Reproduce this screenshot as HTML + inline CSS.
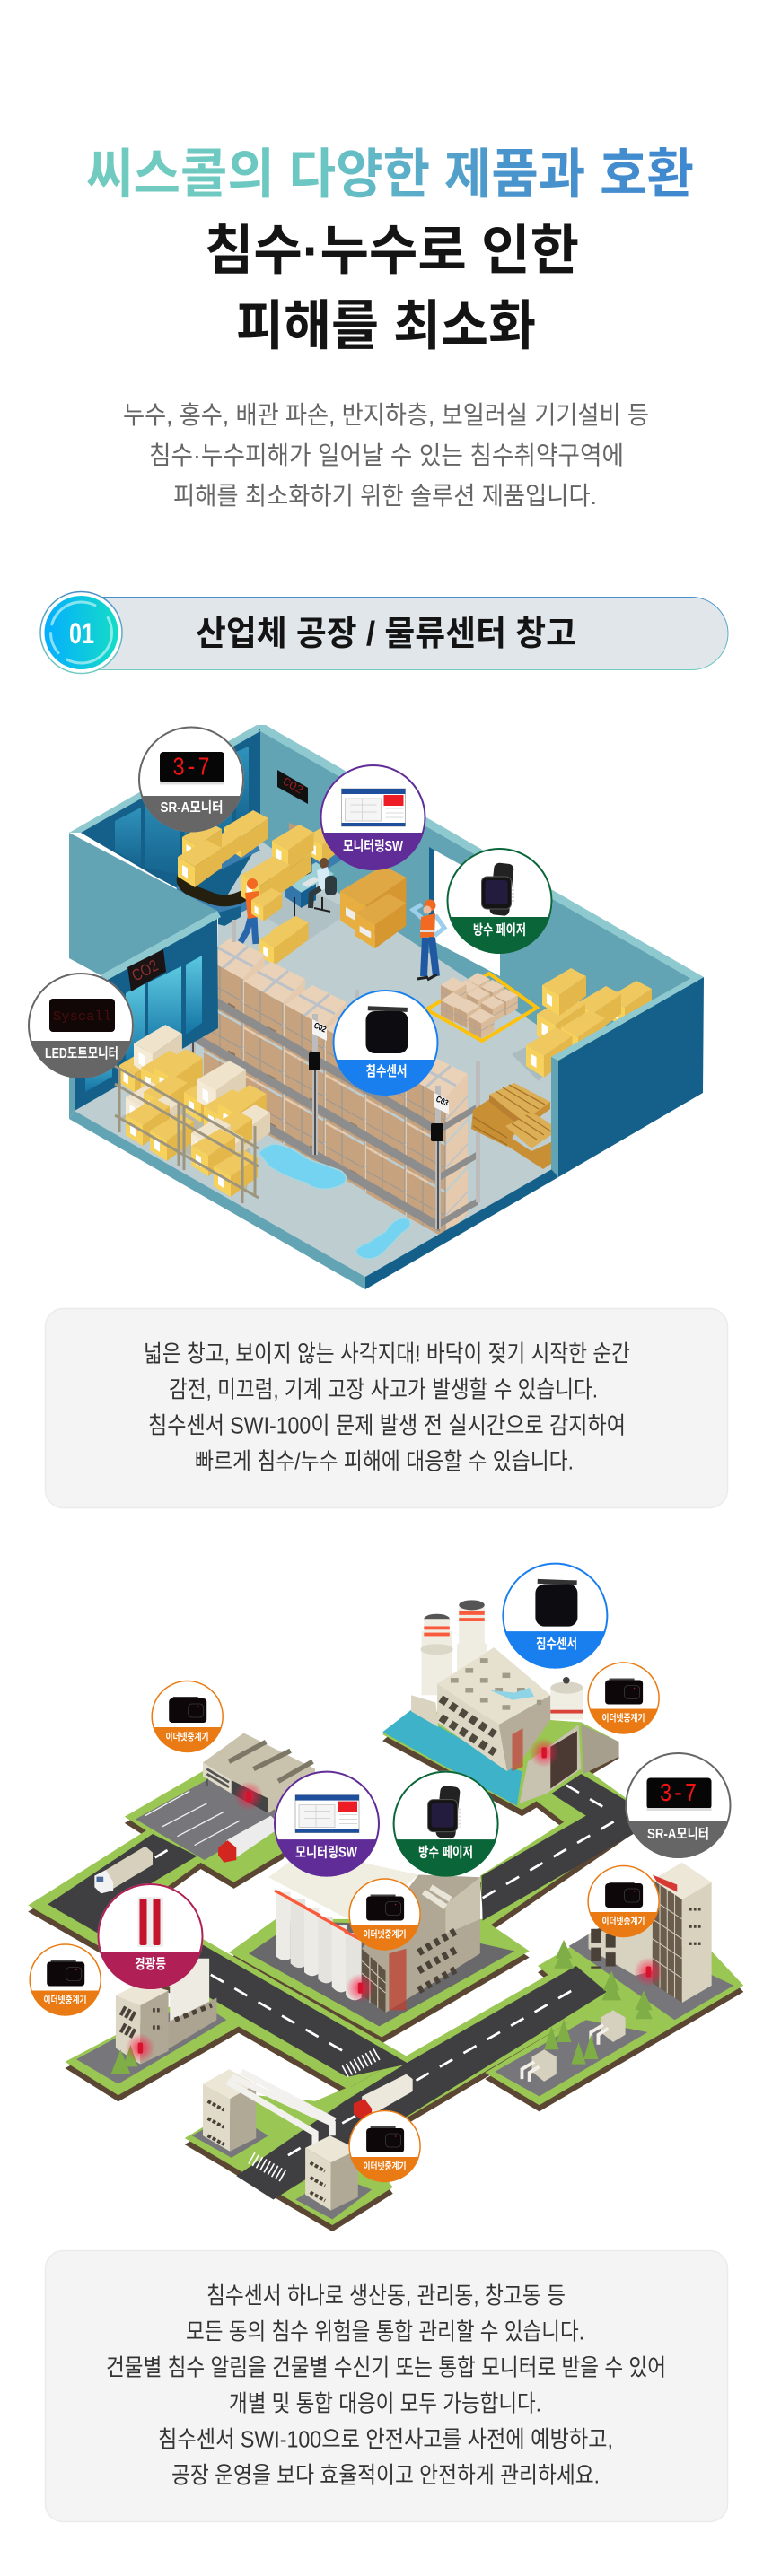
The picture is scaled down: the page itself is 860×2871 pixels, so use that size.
<!DOCTYPE html>
<html lang="ko"><head><meta charset="utf-8"><title>침수센서</title>
<style>html,body{margin:0;padding:0;background:#fff}svg{display:block;font-family:"Liberation Sans","Noto Sans CJK KR",sans-serif}</style></head><body>
<svg xmlns="http://www.w3.org/2000/svg" width="860" height="2871" viewBox="0 0 860 2871">
<defs>
<linearGradient id="tg" x1="96" x2="773" y1="0" y2="0" gradientUnits="userSpaceOnUse"><stop offset="0" stop-color="#71cbbf"/><stop offset=".38" stop-color="#6cc7c3"/><stop offset=".68" stop-color="#4a95cc"/><stop offset="1" stop-color="#3f87cf"/></linearGradient>
<linearGradient id="pb" x1="0" x2="0" y1="0" y2="1"><stop offset="0" stop-color="#4a8fc9"/><stop offset="1" stop-color="#70cbc0"/></linearGradient>
<linearGradient id="cf" x1="0" x2="1" y1="0" y2="0"><stop offset="0" stop-color="#05aeff"/><stop offset="1" stop-color="#14dcc6"/></linearGradient>
<linearGradient id="gl" x1="0" x2="0" y1="0" y2="1"><stop offset="0" stop-color="#5cc8e0"/><stop offset="1" stop-color="#1373a4"/></linearGradient>
<linearGradient id="gd" x1="0" x2="0" y1="0" y2="1"><stop offset="0" stop-color="#2f93bb"/><stop offset="1" stop-color="#15648f"/></linearGradient>
<radialGradient id="glow"><stop offset="0" stop-color="#ff1744" stop-opacity=".85"/><stop offset="1" stop-color="#ff1744" stop-opacity="0"/></radialGradient>
<clipPath id="c59"><circle r="59"/></clipPath>
<clipPath id="c40"><circle r="40"/></clipPath>
<g id="yb"><polygon points="0,0 32,-19 49,-10 19,11" fill="#efc860"/><polygon points="0,0 19,11 19,34 0,22" fill="#f6d15c"/><polygon points="19,11 49,-10 49,12 19,34" fill="#e3b74a"/><polygon points="5,9 11,12.5 11,24 5,20" fill="#fff"/></g>
<g id="cb"><polygon points="0,0 32,-19 49,-10 19,11" fill="#efe3cb"/><polygon points="0,0 19,11 19,34 0,22" fill="#f4ead6"/><polygon points="19,11 49,-10 49,12 19,34" fill="#e0d0b4"/><polygon points="5,9 11,12.5 11,24 5,20" fill="#fff"/></g>
<g id="ob"><polygon points="0,0 32,-19 49,-10 19,11" fill="#e0a845"/><polygon points="0,0 19,11 19,34 0,22" fill="#e8ae40"/><polygon points="19,11 49,-10 49,12 19,34" fill="#d69630"/><polygon points="4,12 15,18 15,24 4,18" fill="#eee"/></g>
<g id="kb"><polygon points="0,0 18,-12 38,-1 19,10" fill="#e8d0b6"/><polygon points="0,0 19,10 19,32 0,22" fill="#c6a381"/><polygon points="19,10 38,-1 38,21 19,32" fill="#d9ba99"/><path d="M0,11 L19,21 L38,10 M9,5 V27" stroke="#a9a49e" stroke-width="1" fill="none"/></g>
<g id="col">
<polygon points="0,0 30,-22 68,-3 43,24" fill="#ead2b8"/><path d="M15,-11 L55,10 M49,-12 L21,12" stroke="#bcc2c8" stroke-width="3" fill="none"/>
<polygon points="43,24 68,-3 68,46 43,74" fill="#e5caad"/><polygon points="43,77 68,50 68,99 43,127" fill="#e5caad"/><polygon points="43,130 68,103 68,152 43,180" fill="#e5caad"/>
<polygon points="0,0 43,24 43,74 0,50" fill="#c6a27e"/><polygon points="0,53 43,77 43,127 0,103" fill="#c6a27e"/><polygon points="0,106 43,130 43,180 0,156" fill="#c6a27e"/>
<path d="M18,10 V60 M18,63 V113 M18,116 V166 M0,25 L43,49 M0,78 L43,102 M0,131 L43,155 M43,24 V180" stroke="#9c9a94" stroke-width="1.2" fill="none"/>
<path d="M43,49 L68,22 M43,102 L68,75 M43,155 L68,128" stroke="#bcc2c8" stroke-width="1.5" fill="none"/>
<rect x="27" y="50" width="8" height="8" fill="#8b7258" transform="skewY(28) translate(0,-14)"/><rect x="27" y="103" width="8" height="8" fill="#8b7258" transform="skewY(28) translate(0,-14)"/><rect x="27" y="156" width="8" height="8" fill="#8b7258" transform="skewY(28) translate(0,-14)"/>
</g>
<g id="mon"><rect x="-35" y="-30.5" width="72" height="35" rx="4" fill="#060606"/><rect x="-35" y="3" width="72" height="3" fill="#ddd"/></g>
<g id="sw"><rect x="-35" y="-32" width="71" height="42" fill="#fff" stroke="#888" stroke-width=".6"/><rect x="-35" y="-32" width="71" height="6" fill="#1d4f9c"/><rect x="-35" y="6" width="71" height="4" fill="#1d4f9c"/><rect x="12" y="-25" width="22" height="12" fill="#ee1c25"/><rect x="-31" y="-21" width="40" height="25" fill="#f5f5f5" stroke="#c4c4c4" stroke-width=".8"/><path d="M-25,-14 H4 M-25,-6 H4 M-12,-21 V4 M14,-10 H34 M14,-5 H34 M14,0 H34" stroke="#ccc" stroke-width=".7"/></g>
<g id="wt"><rect x="-10" y="-42" width="22" height="58" rx="6" fill="#222" transform="rotate(6)"/><rect x="-20" y="-27" width="33" height="36" rx="6" fill="#141414" stroke="#555" stroke-width="1"/><rect x="-16" y="-23" width="25" height="27" rx="3" fill="#241c3e"/><path d="M15,-17 V4" stroke="#ddd" stroke-width="3" stroke-dasharray="2 2"/></g>
<g id="sn"><rect x="-21" y="-40" width="44" height="5" fill="#333" transform="rotate(2)"/><rect x="-22" y="-35" width="47" height="47" rx="10" fill="#0d0d11"/></g>
<g id="eth"><rect x="-16" y="-22" width="28" height="2" fill="#444"/><rect x="-20.5" y="-20" width="42" height="27" rx="3.5" fill="#0e0709"/><rect x="1" y="-14" width="17" height="15" rx="4" fill="none" stroke="#3a3a3a" stroke-width=".8"/><circle cx="12" cy="-11" r=".8" fill="#a22"/></g>
<g id="gnd">
<polygon points="57,772 300,618 415,680 290,770 825,1078 705,1145"/>
<polygon points="700,1148 825,1078 1110,915 1200,880 1240,960 985,1110 798,1220 640,1180"/>
<polygon points="1092,895 1190,838 1440,860 1510,935 1095,1178 985,1112 1230,965 1115,915"/>
<polygon points="375,1245 520,1158 640,1170 710,1140 830,1200 740,1270 798,1345 675,1422"/>
<polygon points="132,1090 240,1158 490,1015 420,950 340,980"/>
<polygon points="465,868 560,800 980,800 1075,865 775,1040"/>
<polygon points="975,712 1145,603 1085,557 1190,495 1320,590 985,820"/>
<polygon points="777,425 835,375 1180,400 1257,440 1257,460 1060,578"/>
<polygon points="253,592 420,495 640,560 575,665 475,725 300,622"/>
</g>
</defs>
<rect width="860" height="2871" fill="#fff"/>

<!-- header -->
<text x="96" y="215" font-size="60" font-weight="700" fill="url(#tg)" textLength="677" lengthAdjust="spacingAndGlyphs">씨스콜의 다양한 제품과 호환</text>
<text x="228" y="300" font-size="60" font-weight="700" fill="#141414" textLength="417" lengthAdjust="spacingAndGlyphs">침수·누수로 인한</text>
<text x="263" y="384" font-size="60" font-weight="700" fill="#141414" textLength="334" lengthAdjust="spacingAndGlyphs">피해를 최소화</text>
<g font-size="28" fill="#666">
<text x="137" y="472" textLength="586" lengthAdjust="spacingAndGlyphs">누수, 홍수, 배관 파손, 반지하층, 보일러실 기기설비 등</text>
<text x="166" y="517" textLength="529" lengthAdjust="spacingAndGlyphs">침수·누수피해가 일어날 수 있는 침수취약구역에</text>
<text x="193" y="562" textLength="472" lengthAdjust="spacingAndGlyphs">피해를 최소화하기 위한 솔루션 제품입니다.</text>
</g>
<rect x="62" y="665.5" width="749" height="81" rx="40.5" fill="#e1e6eb" stroke="url(#pb)" stroke-width="1"/>
<circle cx="90.5" cy="705" r="45.5" fill="#fff" stroke="url(#pb)" stroke-width="1.5"/>
<circle cx="90.5" cy="705" r="41" fill="url(#cf)"/>
<circle cx="90.5" cy="705" r="34" fill="none" stroke="#bff3f3" stroke-opacity=".7" stroke-width="3" stroke-dasharray="70 12 24 10 60 20" stroke-linecap="round"/>
<text x="77" y="717" font-size="32" font-weight="700" fill="#fff" textLength="28" lengthAdjust="spacingAndGlyphs">01</text>
<text x="218" y="719" font-size="38" font-weight="700" fill="#141414" textLength="424" lengthAdjust="spacingAndGlyphs">산업체 공장 / 물류센터 창고</text>

<!-- scene 1 -->
<polygon points="83,1238 243,1146 243,960 290,937 622,1128 622,1300 407,1423" fill="#bdcdd0"/>
<polygon points="290,812 772,1092 640,1170 290,937" fill="#62a3b4"/>
<polygon points="286,808 296,808 784,1089 772,1092 290,815" fill="#8fc9d0"/>
<polygon points="483,947 557,988 557,1088 483,1049" fill="#fff"/>
<polygon points="478,944 483,947 483,1049 478,1047" fill="#15608a"/>
<polygon points="90,928 290,812 290,937 243,1015 170,975" fill="#15608a"/>
<polygon points="77,928 286,808 290,815 90,928" fill="#8fc9d0"/>
<polygon points="128,915 157,900 157,965 128,948" fill="url(#gd)"/>
<polygon points="162,897 200,877 200,975 162,967" fill="url(#gd)"/>
<polygon points="205,872 259,842 259,925 205,958" fill="url(#gd)"/>
<polygon points="263,838 277,832 277,917 263,923" fill="url(#gd)"/>
<polygon points="260,1000 340,1050 392,1015 310,975" fill="#afc1c4"/>
<!-- conveyor -->
<path d="M287,932 L215,967 Q193,980 212,992 L238,1002 Q255,1007 272,998 L340,958" fill="none" stroke="#3a7eb0" stroke-width="13" transform="translate(0,10)"/>
<path d="M287,932 L215,967 Q193,980 212,992 L238,1002 Q255,1007 272,998 L340,958" fill="none" stroke="#251f10" stroke-width="13"/>
<polygon points="243,1017 268,1010 268,1022 250,1032 243,1030" fill="#15608a"/>
<polygon points="322,917 341,925 341,952 322,945" fill="#bb9a78"/>
<polygon points="365,968 395,950 380,940 340,960" fill="#3a7eb0"/>
<polygon points="318,983 352,961 372,974 336,995" fill="#9ad0d6"/>
<polygon points="318,983 336,995 336,1012 318,1000" fill="#3377aa"/>
<polygon points="335,995 352,985 352,1003 335,1012" fill="#155f90"/>
<polygon points="331,962 347,954 347,972 331,980" fill="#f4f4f4" stroke="#222" stroke-width=".7"/>
<polygon points="336,985 350,977 356,981 342,989" fill="#dfe4e6"/>
<use href="#yb" x="250" y="922"/><use href="#yb" transform="translate(232,938) scale(.75)"/><use href="#yb" transform="translate(203,933) scale(.9)"/><use href="#yb" x="198" y="955"/>
<use href="#yb" transform="translate(342,932) scale(.9)"/><use href="#yb" transform="translate(303,960) scale(.9)"/><use href="#yb" transform="translate(303,937) scale(.95)"/><use href="#yb" transform="translate(269,975) scale(1.1)"/>
<!-- operator -->
<ellipse cx="361" cy="962" rx="5" ry="6" fill="#6a4a30"/><polygon points="353,970 365,966 369,986 356,994" fill="#d6eaf5"/><path d="M357,990 L347,996 L346,1012" stroke="#2f3a3e" stroke-width="6" fill="none"/><rect x="362" y="976" width="13" height="22" rx="5" fill="#2e3b3e"/><path d="M359,1000 V1014 M350,1012 L368,1016" stroke="#222" stroke-width="2"/>
<!-- scale -->
<polygon points="383,1022 430,995 451,1028 430,1048" fill="#566aa5"/><rect x="427" y="985" width="3" height="30" fill="#3f4f88"/><rect x="420" y="977" width="14" height="11" fill="#233a6b" transform="skewY(-15) translate(0,115)"/>
<use href="#ob" transform="translate(379,993) scale(1.5)"/><use href="#ob" transform="translate(396,1018) scale(1.15)"/>
<!-- jack -->
<polygon points="294,1060 330,1038 338,1045 300,1073" fill="#e8c74d"/><path d="M328,1000 V1040" stroke="#222" stroke-width="2"/><circle cx="336" cy="1042" r="4" fill="#222"/>
<use href="#yb" transform="translate(302,1037) scale(.85)"/><use href="#yb" transform="translate(289,1047) scale(.85)"/>
<!-- worker -->
<path d="M280,1020 L275,1038 L268,1050 M283,1020 L284,1040 L285,1052" stroke="#2766ab" stroke-width="7" fill="none"/><polygon points="273,995 288,993 288,1022 276,1024" fill="#f26a21"/><circle cx="281" cy="985" r="6" fill="#f26a21"/><use href="#yb" transform="translate(280,1003) scale(.7)"/>
<!-- shelf columns -->
<use href="#col" x="227" y="1067"/><use href="#col" x="272" y="1094"/><use href="#col" x="318" y="1120"/><use href="#col" x="363" y="1147"/><use href="#col" x="408" y="1174"/><use href="#col" x="453" y="1200"/>
<g fill="#8d8d8d"><polygon points="214,1096 490,1256 490,1267 214,1107"/><polygon points="214,1149 490,1309 490,1320 214,1160"/><polygon points="214,1202 490,1362 490,1373 214,1213"/><polygon points="488,1256 532,1230 532,1238 488,1264"/><polygon points="488,1309 532,1283 532,1291 488,1317"/><polygon points="488,1361 532,1335 532,1343 488,1369"/></g>
<g fill="#bcbcbc"><rect x="212" y="1053" width="6" height="152"/><rect x="348" y="1130" width="6" height="157"/><rect x="485" y="1210" width="6" height="160"/><rect x="530" y="1183" width="5" height="157"/><rect x="258" y="1025" width="5" height="25"/><rect x="395" y="1103" width="5" height="22"/></g>
<path d="M215,1125 V1205 M351,1190 V1287 M488,1270 V1370" stroke="#222" stroke-width="1.4"/>
<g fill="#0c0c0c"><rect x="207" y="1113" width="13" height="19" rx="2"/><rect x="344" y="1173" width="13" height="20" rx="2"/><rect x="480" y="1252" width="14" height="20" rx="2"/></g>
<g font-weight="700" font-size="9.5" fill="#000">
<polygon points="211,1060 227,1067 227,1083 211,1076" fill="#f4f4f4"/><text transform="translate(212,1069) rotate(24)" textLength="14" lengthAdjust="spacingAndGlyphs">C01</text>
<polygon points="348,1136 364,1144 364,1160 348,1152" fill="#f4f4f4"/><text transform="translate(349,1145) rotate(24)" textLength="14" lengthAdjust="spacingAndGlyphs">C02</text>
<polygon points="484,1218 500,1226 500,1242 484,1234" fill="#f4f4f4"/><text transform="translate(485,1227) rotate(24)" textLength="14" lengthAdjust="spacingAndGlyphs">C03</text>
</g>
<!-- CO2 wall -->
<polygon points="309,858 343,878 343,896 309,877" fill="#111"/><text transform="translate(314,873) rotate(30)" font-size="13" fill="#9c1c1c" font-family="Liberation Mono" textLength="24" lengthAdjust="spacingAndGlyphs">CO2</text>
<!-- front left wall -->
<polygon points="77,1107 242,1018 243,1146 83,1238 77,1240" fill="#15608a"/>
<polygon points="140,1107 162,1095 162,1177 140,1190" fill="url(#gl)"/><polygon points="165,1095 202,1077 202,1153 165,1173" fill="url(#gl)"/><polygon points="207,1075 225,1065 225,1140 207,1153" fill="url(#gl)"/><polygon points="95,1182 125,1165 125,1200 95,1217" fill="url(#gl)"/>
<polygon points="77,928 242,1015 112,1087 77,1068" fill="#62a3b4"/>
<polygon points="242,1015 246,1022 118,1093 112,1087" fill="#8fc9d0"/>
<polygon points="142,1078 182,1058 185,1083 146,1105" fill="#1a1414"/><text transform="translate(151,1094) rotate(-28)" font-size="18" fill="#8c3030" textLength="30" lengthAdjust="spacingAndGlyphs">CO2</text>
<polygon points="77,1190 83,1190 83,1238 77,1247" fill="#62a3b4"/>
<polygon points="83,1238 407,1423 407,1437 77,1247" fill="#62a3b4"/>
<polygon points="407,1423 615,1303 622,1312 407,1437" fill="#15608a"/>
<!-- rack -->
<polygon points="135,1245 200,1207 280,1252 275,1330 215,1290" fill="#b6a684" opacity=".55"/>
<use href="#yb" transform="translate(133,1187) scale(.9)"/><use href="#cb" transform="translate(149,1163) scale(1.1)"/><use href="#yb" x="157" y="1190"/><use href="#yb" transform="translate(172,1190) scale(1.1)"/>
<use href="#cb" transform="translate(140,1223) scale(.9)"/><use href="#yb" transform="translate(160,1217) scale(1)"/><use href="#cb" transform="translate(157,1237) scale(.9)"/><use href="#yb" x="140" y="1243"/><use href="#yb" x="167" y="1260"/>
<use href="#yb" x="205" y="1217"/><use href="#cb" transform="translate(220,1203) scale(1.1)"/><use href="#yb" x="227" y="1233"/><use href="#yb" transform="translate(243,1230) scale(1.1)"/><use href="#cb" x="252" y="1250"/>
<use href="#yb" x="232" y="1257"/><use href="#cb" transform="translate(213,1263) scale(.9)"/><use href="#cb" transform="translate(228,1277) scale(.9)"/><use href="#yb" x="213" y="1277"/><use href="#yb" x="238" y="1300"/>
<g stroke="#9e957f" stroke-width="3" fill="none"><path d="M128,1188 L288,1280 M128,1208 L288,1300 M128,1243 L288,1335"/><path d="M133,1190 V1262 M199,1230 V1300 M205,1233 V1304 M270,1268 V1341 M284,1255 V1334"/></g>
<!-- pile -->
<polygon points="475,1125 545,1085 598,1123 537,1160" fill="none" stroke="#fdc20d" stroke-width="4"/>
<g>
<use href="#kb" transform="translate(520,1092) scale(.68)"/><use href="#kb" transform="translate(507,1100) scale(.68)"/><use href="#kb" transform="translate(536,1100) scale(.68)"/><use href="#kb" transform="translate(551,1110) scale(.68)"/><use href="#kb" transform="translate(491,1098) scale(.75)"/><use href="#kb" transform="translate(491,1115) scale(.75)"/><use href="#kb" transform="translate(520,1108) scale(.68)"/><use href="#kb" transform="translate(536,1118) scale(.68)"/><use href="#kb" transform="translate(506,1122) scale(.75)"/><use href="#kb" transform="translate(522,1133) scale(.75)"/>
</g>
<!-- person standing -->
<path d="M474,1045 L472,1088 M481,1045 L486,1088" stroke="#2059a2" stroke-width="8" fill="none"/><path d="M465,1091 L477,1089 M476,1092 L487,1086" stroke="#222" stroke-width="3"/>
<path d="M470,1008 L460,1014 L472,1025 M485,1020 L495,1034 L484,1043" stroke="#9bcfec" stroke-width="5" fill="none"/>
<polygon points="469,1022 485,1018 484,1044 468,1045" fill="#f26a21"/><rect x="468" y="1037" width="17" height="2" fill="#ddd"/><circle cx="479" cy="1009" r="6.5" fill="#f26a21"/><circle cx="476" cy="1014" r="4.5" fill="#eebc9e"/>
<!-- right boxes -->
<polygon points="570,1175 600,1160 625,1175 600,1205" fill="#abbcbf"/>
<use href="#yb" x="677" y="1112"/><use href="#yb" x="643" y="1118"/><use href="#yb" transform="translate(598,1130) scale(1.1)"/><use href="#yb" x="625" y="1145"/><use href="#yb" transform="translate(586,1165) scale(1.05)"/><use href="#yb" x="604" y="1098"/>
<!-- pallets -->
<g>
<polygon points="527,1237 553,1220 583,1247 565,1278 525,1258" fill="#c98f35"/>
<path d="M527,1245 L565,1268 M527,1255 L565,1276" stroke="#a57227" stroke-width="1.5"/>
<polygon points="545,1220 573,1207 613,1228 583,1250" fill="#dcae55"/>
<polygon points="545,1220 583,1250 583,1258 545,1228" fill="#b88030"/>
<polygon points="583,1250 613,1228 613,1236 583,1258" fill="#c98f35"/>
<path d="M552,1216 L592,1242 M560,1212 L600,1236 M567,1209 L607,1231" stroke="#a57227" stroke-width="1.3"/>
<polygon points="565,1277 605,1303 614,1297 614,1273 592,1283 565,1265" fill="#c98f35"/>
<polygon points="563,1255 593,1240 614,1253 614,1265 592,1280" fill="#dcae55"/>
<path d="M570,1252 L598,1270 M578,1247 L606,1265 M586,1243 L614,1261" stroke="#a57227" stroke-width="1.3"/>
</g>
<!-- puddles -->
<path d="M288,1285 Q300,1272 312,1276 Q328,1280 340,1290 Q350,1295 358,1297 L380,1305 Q392,1315 378,1322 Q355,1330 340,1318 Q318,1312 300,1300 Z" fill="#74d3f1" stroke="#a9d6de" stroke-width="1.5"/>
<path d="M430,1372 Q440,1355 455,1358 Q462,1366 448,1374 Q435,1388 428,1395 Q415,1408 400,1400 Q390,1392 410,1385 Z" fill="#74d3f1" stroke="#a9d6de" stroke-width="1.5"/>
<!-- front right wall -->
<polygon points="622,1182 784,1089 783,1218 622,1312" fill="#15608a"/>
<polygon points="614,1178 772,1089 784,1089 622,1182" fill="#8fc9d0"/>
<polygon points="614,1178 622,1182 622,1312 614,1303" fill="#62a3b4"/>

<!-- scene 2 -->
<g transform="translate(0,1700) scale(.54855)">
<use href="#gnd" y="13" fill="#5a4633"/>
<use href="#gnd" fill="#9ac653"/>
<!-- asphalt -->
<g fill="#3f3e41">
<polygon points="97,770 310,627 400,672 252,760 830,1094 705,1121"/>
<polygon points="830,1090 1170,895 1232,948 555,1370 480,1322 700,1170"/>
<polygon points="978,712 1190,590 1120,545 1180,505 1290,570 1290,625 980,803"/>
</g>
<g stroke="#fff" stroke-width="5" fill="none">
<path d="M428,913 L700,1070" stroke-dasharray="30 25.6"/>
<path d="M845,1128 L1160,946" stroke-dasharray="30 25.6"/>
<path d="M980,757 L1250,600" stroke-dasharray="30 25.6"/>
<path d="M1150,528 L1228,574" stroke-dasharray="30 25.6"/>
<path d="M315,675 L340,660 M695,1215 L722,1200 M585,1280 L610,1265"/>
<path d="M700,1110 L770,1072" stroke-width="26" stroke-dasharray="3 6"/>
<path d="M510,1285 L580,1325" stroke-width="26" stroke-dasharray="3 6"/>
</g>
<!-- parking -->
<polygon points="275,597 470,490 570,590 415,680" fill="#77777b"/>
<path d="M295,590 L385,540 M330,612 L420,565 M360,632 L455,582 M395,650 L487,600" stroke="#eee" stroke-width="2.5"/>
<!-- warehouse -->
<polygon points="412,482 495,422 640,495 640,520 545,585 470,540" fill="#c9c3ae"/>
<polygon points="412,482 470,518 470,545 412,510" fill="#e0dbc9"/><path d="M420,495 L465,522 M420,505 L465,532 M420,515 V530" stroke="#555" stroke-width="5"/>
<polygon points="470,518 545,555 545,585 470,545" fill="#444"/>
<path d="M465,480 L540,440 M515,495 L590,458 M565,520 L635,480" stroke="#7d7767" stroke-width="10"/>
<!-- trucks -->
<polygon points="215,700 295,652 310,665 310,690 230,738 215,725" fill="#d6d0bd"/>
<polygon points="192,712 215,700 230,725 230,742 205,748 192,735" fill="#f2f2f2"/><rect x="196" y="714" width="14" height="10" fill="#4a6b9c"/>
<polygon points="460,640 550,590 560,600 560,620 480,675 460,665" fill="#ececec"/>
<polygon points="443,655 462,640 480,655 480,680 455,685 443,670" fill="#d3261f"/>
<polygon points="735,1160 825,1115 838,1125 838,1150 760,1195 735,1185" fill="#ece8dc"/>
<polygon points="718,1175 740,1165 755,1185 755,1200 730,1205 718,1195" fill="#d3261f"/>
<!-- island A -->
<polygon points="777,420 835,375 1030,490 1060,500 1050,570" fill="#3db2c9"/>
<polygon points="835,345 885,360 890,410 835,378" fill="#d9d3c0"/>
<rect x="856" y="215" width="62" height="130" fill="#efece2"/><ellipse cx="887" cy="190" rx="26" ry="10" fill="#555"/><rect x="861" y="190" width="52" height="55" fill="#efece2"/><rect x="861" y="205" width="52" height="7" fill="#fa5a3c"/><rect x="861" y="218" width="52" height="7" fill="#fa5a3c"/><ellipse cx="887" cy="252" rx="33" ry="11" fill="#dcd8c8"/>
<rect x="928" y="240" width="60" height="80" fill="#efece2"/><rect x="932" y="165" width="52" height="80" fill="#efece2"/><ellipse cx="958" cy="162" rx="26" ry="10" fill="#555"/><rect x="932" y="175" width="52" height="7" fill="#fa5a3c"/><rect x="932" y="188" width="52" height="7" fill="#fa5a3c"/>
<polygon points="888,322 1013,405 1030,500 888,400" fill="#dcd6c4"/>
<polygon points="1013,405 1118,345 1118,395 1057,480 1030,500" fill="#b5ad99"/>
<polygon points="888,322 1003,248 1118,345 1013,405" fill="#e6e1cf"/>
<g fill="#a09b89"><rect x="915" y="310" width="16" height="10"/><rect x="945" y="330" width="16" height="10"/><rect x="975" y="350" width="16" height="10"/><rect x="945" y="290" width="16" height="10"/><rect x="975" y="310" width="16" height="10"/><rect x="1005" y="330" width="16" height="10"/><rect x="975" y="270" width="16" height="10"/><rect x="1020" y="300" width="16" height="10"/><rect x="1050" y="330" width="16" height="10"/><rect x="1020" y="365" width="16" height="10"/><rect x="1090" y="355" width="10" height="10"/></g>
<polygon points="995,335 1045,340 1075,330 1085,348 1040,355" fill="#8fd3e6"/>
<g stroke="#4e483d" stroke-width="16" fill="none" stroke-dasharray="14 10"><path d="M895,352 L1005,425"/><path d="M895,390 L1005,462"/></g>
<polygon points="1040,425 1062,412 1062,490 1040,500" fill="#c04a3a" opacity=".75"/>
<rect x="1118" y="330" width="66" height="65" fill="#f0ede3"/><ellipse cx="1151" cy="330" rx="33" ry="12" fill="#d7d3c5"/><rect x="1118" y="375" width="66" height="7" fill="#d9433a"/><circle cx="1150" cy="315" r="7" fill="#444"/>
<polygon points="1180,405 1257,440 1257,470 1185,505" fill="#a69f8d"/>
<polygon points="1055,565 1072,480 1175,405 1180,495 1110,545" fill="#c8c2b0"/>
<polygon points="1118,450 1172,418 1172,497 1118,535" fill="#4a3a33"/>
<!-- central building -->
<polygon points="505,870 770,1018 1045,865 800,810 600,805" fill="#69686b"/>
<g fill="#ecebe6"><path d="M560,745 H590 V880 Q575,890 560,875Z"/><path d="M590,760 H620 V895 Q605,905 590,890Z" fill="#e4e3dd"/><path d="M618,778 H648 V910 Q633,922 618,908Z"/><path d="M646,795 H676 V925 Q661,937 646,922Z" fill="#e4e3dd"/><path d="M674,812 H704 V945 Q689,955 674,938Z"/><path d="M702,828 H734 V960 Q717,972 702,955Z" fill="#e4e3dd"/></g>
<g stroke="#fa5a3c" stroke-width="6" fill="none"><path d="M558,742 L592,760 M586,758 L620,776 M616,775 L650,793 M644,792 L678,810 M672,808 L706,826 M700,825 L734,842"/></g>
<polygon points="545,715 620,660 850,710 730,812" fill="#f0eee0"/>
<polygon points="850,710 975,715 975,870 783,990 735,860" fill="#b0a894"/>
<polygon points="735,860 783,905 783,990 735,955" fill="#5f5345"/>
<path d="M735,885 L783,930 M735,910 L783,950 M751,875 V970 M767,890 V980" stroke="#cfc9b8" stroke-width="2"/>
<polygon points="905,770 975,715 975,800 905,830" fill="#c8c2ae"/>
<g stroke="#4a4238" stroke-width="15" stroke-dasharray="10 9" fill="none"><path d="M850,868 L930,822"/><path d="M850,905 L930,860"/><path d="M850,945 L930,900"/></g>
<polygon points="790,870 825,860 825,985 790,985" fill="#c04030" opacity=".75"/>
<path d="M860,745 L905,775 M875,735 L915,760" stroke="#e8e5d8" stroke-width="12"/>
<!-- lower left -->
<polygon points="155,1085 240,1135 460,1005 430,985 330,990" fill="#77767a"/>
<rect x="345" y="880" width="80" height="130" fill="#eeece2"/><ellipse cx="385" cy="1010" rx="40" ry="14" fill="#e2dfd2"/>
<polygon points="340,1010 440,960 440,1005 340,1065" fill="#aca491"/><path d="M355,1005 L430,975" stroke="#4a4238" stroke-width="10" stroke-dasharray="10 9"/>
<polygon points="235,955 285,975 285,1095 235,1062" fill="#dcd6c4"/><polygon points="285,975 342,945 342,1068 285,1095" fill="#b0a894"/><polygon points="235,955 285,930 342,945 285,975" fill="#ebe6d6"/>
<path d="M247,985 L275,1000 M247,1020 L275,1035" stroke="#4a4238" stroke-width="20" stroke-dasharray="7 4"/><path d="M310,985 H330 M310,1020 H330" stroke="#4a4238" stroke-width="8" stroke-dasharray="5 4"/>
<!-- right plot -->
<polygon points="1155,855 1230,810 1490,935 1370,1005" fill="#77767a"/>
<polygon points="1005,1110 1190,1005 1315,1030 1095,1160" fill="#77767a"/>
<polygon points="1195,830 1325,805 1325,905 1290,915 1195,860" fill="#d8d2c0"/>
<path d="M1210,820 V900 M1240,830 V905" stroke="#4a4238" stroke-width="20" stroke-dasharray="28 10" fill="none"/>
<polygon points="1325,720 1385,760 1385,970 1325,930" fill="#6b5d4e"/>
<path d="M1340,730 V940 M1355,740 V950 M1370,750 V960 M1325,760 L1385,800 M1325,800 L1385,840 M1325,840 L1385,880 M1325,880 L1385,920" stroke="#cfc9b8" stroke-width="2"/>
<polygon points="1385,760 1445,725 1445,935 1385,970" fill="#d8d2bf"/>
<polygon points="1325,720 1385,685 1445,725 1385,760" fill="#ece7d6"/>
<polygon points="1325,710 1375,730 1375,745 1335,725" fill="#d63a33"/>
<path d="M1400,780 H1425 M1400,815 H1425 M1400,850 H1425" stroke="#4a4238" stroke-width="6" stroke-dasharray="5 4"/>
<g fill="#d6d0be"><polygon points="1080,1080 1105,1065 1130,1080 1130,1115 1105,1130 1080,1110"/><polygon points="1220,1000 1245,985 1270,1000 1270,1035 1245,1050 1220,1030"/></g>
<g stroke="#f2efe8" stroke-width="7" fill="none"><path d="M1060,1125 V1105 L1085,1090 M1075,1130 V1112 L1095,1100 M1200,1050 V1030 L1225,1015 M1215,1055 V1035 L1235,1022"/></g>
<g fill="#7fae46"><polygon points="1145,842 1128,880 1162,880"/><polygon points="1145,860 1125,900 1165,900"/><polygon points="1242,905 1225,945 1258,945"/><polygon points="1242,925 1222,965 1262,965"/><polygon points="1307,945 1290,985 1325,985"/><polygon points="1307,965 1290,1003 1325,1003"/><polygon points="1120,1018 1105,1065 1135,1065"/><polygon points="1145,1002 1130,1050 1160,1050"/><polygon points="1175,1050 1160,1095 1190,1095"/><polygon points="1200,1035 1185,1085 1215,1085"/><polygon points="245,1065 225,1115 265,1115"/><polygon points="265,1055 250,1100 280,1100"/></g>
<!-- bottom buildings -->
<polygon points="390,1240 470,1195 545,1240 470,1285" fill="#77767a"/><polygon points="600,1370 680,1320 755,1350 675,1410" fill="#77767a"/>
<polygon points="412,1135 467,1165 467,1272 412,1240" fill="#e0dbc8"/><polygon points="467,1165 520,1135 520,1245 467,1272" fill="#b0a996"/><polygon points="412,1135 465,1105 520,1135 467,1165" fill="#ebe6d6"/>
<path d="M422,1170 L455,1188 M422,1205 L455,1223 M422,1240 L455,1258" stroke="#4a4238" stroke-width="7" stroke-dasharray="7 4"/>
<g stroke="#f2f1ee" stroke-width="13" fill="none"><path d="M470,1120 L675,1215 V1240"/><path d="M490,1110 L680,1210"/><path d="M462,1130 L640,1235 V1265"/></g>
<polygon points="620,1265 672,1295 672,1392 620,1360" fill="#e0dbc8"/><polygon points="672,1295 727,1268 727,1365 672,1392" fill="#b0a996"/><polygon points="620,1265 670,1240 727,1268 672,1295" fill="#ebe6d6"/>
<path d="M630,1295 L660,1312 M630,1325 L660,1342 M630,1355 L660,1372" stroke="#4a4238" stroke-width="7" stroke-dasharray="7 4"/>
<!-- sensors -->
<g fill="url(#glow)"><circle cx="505" cy="550" r="30"/><circle cx="1105" cy="462" r="30"/><circle cx="732" cy="940" r="30"/><circle cx="1317" cy="907" r="30"/><circle cx="285" cy="1062" r="30"/></g>
<g fill="#d5142c"><rect x="500" y="540" width="10" height="22" rx="3"/><rect x="1100" y="451" width="10" height="22" rx="3"/><rect x="727" y="929" width="10" height="22" rx="3"/><rect x="1312" y="896" width="10" height="22" rx="3"/><rect x="280" y="1051" width="10" height="22" rx="3"/></g>
</g>

<!-- badges scene 1 -->
<g transform="translate(213,868.5)"><circle r="59" fill="#fff"/><g clip-path="url(#c59)"><rect x="-60" y="18.5" width="120" height="42" fill="#666"/></g><circle r="58" fill="none" stroke="#666" stroke-width="2"/><use href="#mon"/><text x="-21" y="-5" font-size="29" fill="#f01414" font-family="Liberation Mono" textLength="42" lengthAdjust="spacingAndGlyphs">3-7</text></g>
<text x="178.5" y="905" font-size="15.5" font-weight="700" fill="#fff" textLength="70" lengthAdjust="spacingAndGlyphs">SR-A모니터</text>
<g transform="translate(415.5,911)"><circle r="59" fill="#fff"/><g clip-path="url(#c59)"><rect x="-60" y="17" width="120" height="43" fill="#5f2c98"/></g><circle r="58" fill="none" stroke="#5f2c98" stroke-width="2"/><use href="#sw"/></g>
<text x="382" y="948" font-size="15.5" font-weight="700" fill="#fff" textLength="67" lengthAdjust="spacingAndGlyphs">모니터링SW</text>
<g transform="translate(556.5,1004)"><circle r="59" fill="#fff"/><g clip-path="url(#c59)"><rect x="-60" y="18" width="120" height="42" fill="#0a6639"/></g><circle r="58" fill="none" stroke="#0a6639" stroke-width="2"/><use href="#wt"/></g>
<text x="527" y="1041.5" font-size="15.5" font-weight="700" fill="#fff" textLength="59" lengthAdjust="spacingAndGlyphs">방수 페이저</text>
<g transform="translate(429.5,1162)"><circle r="59" fill="#fff"/><g clip-path="url(#c59)"><rect x="-60" y="19" width="120" height="41" fill="#1a7fee"/></g><circle r="58" fill="none" stroke="#1a7fee" stroke-width="2"/><use href="#sn"/></g>
<text x="407.5" y="1199" font-size="15.5" font-weight="700" fill="#fff" textLength="46" lengthAdjust="spacingAndGlyphs">침수센서</text>
<g transform="translate(90,1143)"><circle r="59" fill="#fff"/><g clip-path="url(#c59)"><rect x="-60" y="17" width="120" height="43" fill="#666"/></g><circle r="58" fill="none" stroke="#666" stroke-width="2"/><rect x="-35" y="-30" width="73" height="37" rx="4" fill="#120707"/><text x="-31" y="-6" font-size="15" fill="#4a0c0c" font-family="Liberation Mono" textLength="65" lengthAdjust="spacingAndGlyphs">Syscall</text></g>
<text x="50" y="1179" font-size="15.5" font-weight="700" fill="#fff" textLength="82" lengthAdjust="spacingAndGlyphs">LED도트모니터</text>

<!-- badges scene 2 -->
<g transform="translate(618.4,1800.6)"><circle r="59" fill="#fff"/><g clip-path="url(#c59)"><rect x="-60" y="17.5" width="120" height="43" fill="#1a7fee"/></g><circle r="58" fill="none" stroke="#1a7fee" stroke-width="2"/><use href="#sn"/></g>
<text x="597" y="1837" font-size="15.5" font-weight="700" fill="#fff" textLength="46" lengthAdjust="spacingAndGlyphs">침수센서</text>
<g transform="translate(755.5,2012)"><circle r="59" fill="#fff"/><g clip-path="url(#c59)"><rect x="-60" y="18" width="120" height="42" fill="#666"/></g><circle r="58" fill="none" stroke="#666" stroke-width="2"/><use href="#mon"/><text x="-21" y="-5" font-size="29" fill="#f01414" font-family="Liberation Mono" textLength="42" lengthAdjust="spacingAndGlyphs">3-7</text></g>
<text x="721" y="2049" font-size="15.5" font-weight="700" fill="#fff" textLength="69" lengthAdjust="spacingAndGlyphs">SR-A모니터</text>
<g transform="translate(364,2032.6)"><circle r="59" fill="#fff"/><g clip-path="url(#c59)"><rect x="-60" y="17.5" width="120" height="43" fill="#5f2c98"/></g><circle r="58" fill="none" stroke="#5f2c98" stroke-width="2"/><use href="#sw"/></g>
<text x="329" y="2069.5" font-size="15.5" font-weight="700" fill="#fff" textLength="69" lengthAdjust="spacingAndGlyphs">모니터링SW</text>
<g transform="translate(496.6,2032.6)"><circle r="59" fill="#fff"/><g clip-path="url(#c59)"><rect x="-60" y="17.5" width="120" height="43" fill="#0a6639"/></g><circle r="58" fill="none" stroke="#0a6639" stroke-width="2"/><use href="#wt"/></g>
<text x="466" y="2069.5" font-size="15.5" font-weight="700" fill="#fff" textLength="61" lengthAdjust="spacingAndGlyphs">방수 페이저</text>
<g transform="translate(167.5,2158)"><circle r="59" fill="#fff"/><g clip-path="url(#c59)"><rect x="-60" y="17" width="120" height="43" fill="#b01f55"/></g><circle r="58" fill="none" stroke="#b01f55" stroke-width="2"/><rect x="-14" y="-44" width="28.5" height="56" rx="2" fill="#eee"/><rect x="-12" y="-42" width="8" height="52" rx="2" fill="#c4132d"/><rect x="3" y="-42" width="8" height="52" rx="2" fill="#c4132d"/></g>
<text x="150" y="2194" font-size="15.5" font-weight="700" fill="#fff" textLength="35" lengthAdjust="spacingAndGlyphs">경광등</text>

<g transform="translate(694.6,1892.5)"><circle r="40" fill="#fff"/><g clip-path="url(#c40)"><rect x="-41" y="12" width="82" height="30" fill="#ea7b14"/></g><circle r="39.5" fill="none" stroke="#ea7b14" stroke-width="1.5"/><use href="#eth"/></g>
<text x="670.5" y="1918" font-size="10.5" font-weight="700" fill="#fff" textLength="48" lengthAdjust="spacingAndGlyphs">이더넷중계기</text>
<g transform="translate(208.7,1913)"><circle r="40" fill="#fff"/><g clip-path="url(#c40)"><rect x="-41" y="12" width="82" height="30" fill="#ea7b14"/></g><circle r="39.5" fill="none" stroke="#ea7b14" stroke-width="1.5"/><use href="#eth"/></g>
<text x="184.5" y="1939" font-size="10.5" font-weight="700" fill="#fff" textLength="48" lengthAdjust="spacingAndGlyphs">이더넷중계기</text>
<g transform="translate(694.6,2119)"><circle r="40" fill="#fff"/><g clip-path="url(#c40)"><rect x="-41" y="12" width="82" height="30" fill="#ea7b14"/></g><circle r="39.5" fill="none" stroke="#ea7b14" stroke-width="1.5"/><use href="#eth"/></g>
<text x="670.5" y="2144.5" font-size="10.5" font-weight="700" fill="#fff" textLength="48" lengthAdjust="spacingAndGlyphs">이더넷중계기</text>
<g transform="translate(428.6,2133.5)"><circle r="40" fill="#fff"/><g clip-path="url(#c40)"><rect x="-41" y="12" width="82" height="30" fill="#ea7b14"/></g><circle r="39.5" fill="none" stroke="#ea7b14" stroke-width="1.5"/><use href="#eth"/></g>
<text x="404.5" y="2159" font-size="10.5" font-weight="700" fill="#fff" textLength="48" lengthAdjust="spacingAndGlyphs">이더넷중계기</text>
<g transform="translate(72.7,2206.5)"><circle r="40" fill="#fff"/><g clip-path="url(#c40)"><rect x="-41" y="12" width="82" height="30" fill="#ea7b14"/></g><circle r="39.5" fill="none" stroke="#ea7b14" stroke-width="1.5"/><use href="#eth"/></g>
<text x="48.5" y="2232" font-size="10.5" font-weight="700" fill="#fff" textLength="48" lengthAdjust="spacingAndGlyphs">이더넷중계기</text>
<g transform="translate(428.6,2392)"><circle r="40" fill="#fff"/><g clip-path="url(#c40)"><rect x="-41" y="12" width="82" height="30" fill="#ea7b14"/></g><circle r="39.5" fill="none" stroke="#ea7b14" stroke-width="1.5"/><use href="#eth"/></g>
<text x="404.5" y="2417.5" font-size="10.5" font-weight="700" fill="#fff" textLength="48" lengthAdjust="spacingAndGlyphs">이더넷중계기</text>

<!-- text box 1 -->
<rect x="50.5" y="1458.5" width="760" height="222" rx="20" fill="#f4f4f4" stroke="#ebebeb" stroke-width="1.5"/>
<g font-size="26" fill="#333">
<text x="160" y="1517.5" textLength="542" lengthAdjust="spacingAndGlyphs">넓은 창고, 보이지 않는 사각지대! 바닥이 젖기 시작한 순간</text>
<text x="188" y="1557.5" textLength="478" lengthAdjust="spacingAndGlyphs">감전, 미끄럼, 기계 고장 사고가 발생할 수 있습니다.</text>
<text x="165" y="1597.5" textLength="532" lengthAdjust="spacingAndGlyphs">침수센서 SWI-100이 문제 발생 전 실시간으로 감지하여</text>
<text x="217" y="1637.5" textLength="422" lengthAdjust="spacingAndGlyphs">빠르게 침수/누수 피해에 대응할 수 있습니다.</text>
</g>
<!-- text box 2 -->
<rect x="50.5" y="2508.5" width="760" height="302" rx="20" fill="#f4f4f4" stroke="#ebebeb" stroke-width="1.5"/>
<g font-size="26" fill="#333">
<text x="230" y="2567.5" textLength="400" lengthAdjust="spacingAndGlyphs">침수센서 하나로 생산동, 관리동, 창고동 등</text>
<text x="207" y="2607.5" textLength="444" lengthAdjust="spacingAndGlyphs">모든 동의 침수 위험을 통합 관리할 수 있습니다.</text>
<text x="118" y="2647.5" textLength="624" lengthAdjust="spacingAndGlyphs">건물별 침수 알림을 건물별 수신기 또는 통합 모니터로 받을 수 있어</text>
<text x="255" y="2687.5" textLength="348" lengthAdjust="spacingAndGlyphs">개별 및 통합 대응이 모두 가능합니다.</text>
<text x="176" y="2727.5" textLength="507" lengthAdjust="spacingAndGlyphs">침수센서 SWI-100으로 안전사고를 사전에 예방하고,</text>
<text x="191" y="2767.5" textLength="477" lengthAdjust="spacingAndGlyphs">공장 운영을 보다 효율적이고 안전하게 관리하세요.</text>
</g>
</svg>
</body></html>
